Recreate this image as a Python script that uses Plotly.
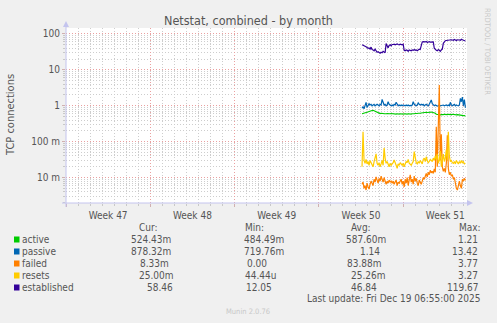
import plotly.graph_objects as go
import pandas as pd

# ---------------- data (2-hour samples) ----------------
series_start = "2025-12-11 14:00"

established = [50, 49, 47, 46,
               44, 42, 40, 41, 38, 43, 37,
               36, 34, 38, 33, 31, 32, 30, 29, 31, 30,
               33, 31, 30,
               54, 45, 41,
               48, 50, 47, 51,
               51, 52, 50, 51, 53, 51, 50, 52, 51, 50, 52,
               35, 34, 36, 35, 33, 36, 35, 34, 36, 35, 37, 35, 36, 34, 36, 38, 37,
               45,
               60, 61, 59, 60, 62, 58, 60, 61, 59, 60, 62, 60,
               40, 36, 35, 34,
               37, 35, 33, 36, 38,
               55, 63, 65, 66,
               67, 66, 68, 67, 69, 68, 67, 70, 68, 66, 69, 70, 68, 67, 71, 69, 68, 66, 64]

passive = [0.85, 0.95, 0.82, 1.1, 1.25, 0.9, 1.0, 1.15, 1.05, 1.1,
           1.0, 1.05, 1.1, 1.0, 1.05, 1.1, 1.05, 1.0, 1.1, 1.05,
           1.5, 1.2, 1.05, 1.1, 1.0, 1.05, 1.3, 1.1, 1.05, 1.0,
           1.05, 1.0, 1.1, 1.05, 1.25, 1.05, 1.0, 1.05, 1.0, 1.05,
           1.0, 1.05, 1.02, 1.0, 1.05, 1.0, 1.05, 1.0, 1.02, 1.0,
           1.05, 1.3, 1.1, 1.05, 1.0, 1.05, 1.2, 1.1, 1.05, 1.1,
           1.05, 1.1, 1.0, 1.05, 1.1, 1.05, 1.0, 1.1, 1.35, 1.45,
           1.15, 1.05, 1.0, 1.05, 1.0, 0.98, 1.0, 1.05, 1.0, 1.02,
           1.0, 1.05, 1.0, 1.02, 1.05, 1.0, 1.05, 1.0, 1.25, 1.05,
           1.0, 1.05, 1.1, 1.0, 1.05, 1.02, 1.0, 1.05, 1.6, 1.3,
           1.75, 1.0, 1.5, 0.88]

active = [0.60, 0.62, 0.63, 0.64, 0.65, 0.66, 0.68, 0.69, 0.70, 0.72,
          0.74, 0.75, 0.73, 0.70, 0.67, 0.65, 0.64, 0.62, 0.61, 0.62,
          0.60, 0.61, 0.60, 0.59, 0.60, 0.61, 0.60, 0.59, 0.60, 0.61,
          0.60, 0.59, 0.60, 0.58, 0.59, 0.60, 0.58, 0.59, 0.60, 0.59,
          0.58, 0.59, 0.60, 0.59, 0.58, 0.59, 0.60, 0.59, 0.58, 0.59,
          0.60, 0.59, 0.60, 0.61, 0.60, 0.61, 0.62, 0.61, 0.62, 0.63,
          0.64, 0.63, 0.64, 0.65, 0.66, 0.65, 0.66, 0.67, 0.66, 0.67,
          0.66, 0.65, 0.64, 0.62, 0.58, 0.57, 0.56, 0.57, 0.56, 0.57,
          0.56, 0.57, 0.58, 0.57, 0.56, 0.57, 0.58, 0.57, 0.58, 0.57,
          0.58, 0.57, 0.56, 0.57, 0.56, 0.57, 0.56, 0.55, 0.54, 0.55,
          0.54, 0.53, 0.53, 0.52]

resets = [0.020, 0.19, 0.030, 0.025, 0.032, 0.024, 0.028, 0.022, 0.030, 0.026,
          0.024, 0.020, 0.028, 0.035, 0.046, 0.025, 0.022, 0.026, 0.020, 0.024,
          0.030, 0.022, 0.067, 0.035, 0.025, 0.028, 0.022, 0.020, 0.025, 0.022,
          0.024, 0.026, 0.031, 0.024, 0.022, 0.018, 0.024, 0.022, 0.026, 0.024,
          0.022, 0.025, 0.020, 0.024, 0.028, 0.026, 0.032, 0.025, 0.024, 0.022,
          0.025, 0.028, 0.053, 0.030, 0.026, 0.024, 0.028, 0.025, 0.030, 0.027,
          0.024, 0.032, 0.035, 0.028, 0.038, 0.030, 0.026, 0.028, 0.032, 0.030,
          0.028, 0.035, 0.030, 0.040, 0.032, 0.045, 0.025, 0.030, 0.055, 0.020,
          0.030, 0.045, 0.028, 0.035, 0.060, 0.030, 0.19, 0.040, 0.028, 0.030,
          0.026, 0.025, 0.028, 0.024, 0.030, 0.026, 0.024, 0.028, 0.025, 0.030,
          0.026, 0.028, 0.024, 0.025]

failed = [0.0065, 0.0075, 0.0050, 0.0060, 0.0045, 0.0070, 0.0055, 0.0048, 0.0065, 0.0080,
          0.0070, 0.0060, 0.0090, 0.0075, 0.0105, 0.0085, 0.0070, 0.0095, 0.0080, 0.0110,
          0.0090, 0.0075, 0.0100, 0.0085, 0.0065, 0.0080, 0.0070, 0.0085, 0.0075, 0.0080,
          0.0070, 0.0080, 0.0065, 0.0075, 0.0085, 0.0060, 0.0075, 0.0070, 0.0080, 0.0090,
          0.0065, 0.0080, 0.0055, 0.0090, 0.0070, 0.0100, 0.0060, 0.0085, 0.0120, 0.0075,
          0.0090, 0.0065, 0.0110, 0.0080, 0.0095, 0.0070, 0.0060, 0.0085, 0.0075, 0.0065,
          0.0080, 0.0100, 0.0090, 0.0115, 0.0130, 0.0105, 0.0140, 0.0120, 0.0160, 0.0135,
          0.0150, 0.0130, 0.0175, 0.0140, 0.26, 0.0200, 0.80, 3.77, 0.0300, 0.16,
          0.0200, 0.0150, 0.0180, 0.0140, 0.0250, 0.15, 0.0180, 0.0120, 0.0140, 0.0110,
          0.0120, 0.0090, 0.0100, 0.0060, 0.0050, 0.0045, 0.0070, 0.0080, 0.0060, 0.0050,
          0.0090, 0.0080, 0.0095, 0.0083]

series_names = ["active", "passive", "failed", "resets", "established"]
series_colors = ["#00cc00", "#0066b3", "#ff8000", "#ffcc00", "#330099"]
series_values = [active, passive, failed, resets, established]

cur_vals = ["524.43m", "878.32m", "8.33m", "25.00m", "58.46"]
min_vals = ["484.49m", "719.76m", "0.00", "44.44u", "12.05"]
avg_vals = ["587.60m", "1.14", "83.88m", "25.26m", "46.84"]
max_vals = ["1.21", "13.42", "3.77", "3.27", "119.67"]

y_tickvals = [0.01, 0.1, 1, 10, 100]
y_ticktext = ["10 m", "100 m", "1", "10", "100"]

title_text = "Netstat, combined - by month"
ylabel_text = "TCP connections"
update_text = "Last update: Fri Dec 19 06:55:00 2025"
munin_text = "Munin 2.0.76"
rrd_text = "RRDTOOL / TOBI OETIKER"

# ---------------- geometry helpers ----------------
W, H = 497, 323
L, R, T, B = 66, 467, 28, 203
FONT = "DejaVu Sans Condensed, DejaVu Sans, sans-serif"
TXT = "#555555"
MAJOR_GRID = "#eaa0a0"
MINOR_GRID = "#cdcdcd"
DASH = "1px,2px"


def px(x):
    return (x - L) / (R - L)


def py(y):
    return (B - y) / (B - T)


times = pd.date_range(series_start, periods=len(active), freq="2h")

fig = go.Figure()
for name, color, vals in zip(series_names, series_colors, series_values):
    fig.add_trace(go.Scatter(x=times, y=vals, mode="lines", name=name,
                             line=dict(color=color, width=1.2),
                             showlegend=False, hoverinfo="skip"))

minor_y = [m * 10 ** k for k in range(-3, 3) for m in range(2, 10)]

fig.update_layout(
    width=W, height=H,
    margin=dict(l=L, r=W - R, t=T, b=H - B),
    paper_bgcolor="#f0f0f0",
    plot_bgcolor="#ffffff",
    font=dict(family=FONT, size=10, color=TXT),
    xaxis=dict(
        type="date",
        range=["2025-11-17 00:00", "2025-12-20 07:12"],
        tick0="2025-11-17", dtick=7 * 86400000,
        ticklabelmode="period", tickformat="Week %V",
        showgrid=True, gridcolor=MAJOR_GRID, griddash=DASH, gridwidth=1,
        ticks="outside", ticklen=3, tickcolor="#d0b0b0",
        minor=dict(dtick=86400000, tick0="2025-11-17", showgrid=True,
                   gridcolor=MINOR_GRID, griddash=DASH, gridwidth=1,
                   ticks="outside", ticklen=2, tickcolor="#c8c8c8"),
        showline=False, zeroline=False,
        tickfont=dict(size=10, color=TXT),
    ),
    yaxis=dict(
        type="log",
        range=[-2.708, 2.167],
        tickmode="array", tickvals=y_tickvals, ticktext=y_ticktext,
        showgrid=True, gridcolor=MAJOR_GRID, griddash=DASH, gridwidth=1,
        ticks="outside", ticklen=3, tickcolor="#d0b0b0",
        minor=dict(tickmode="array", tickvals=minor_y, showgrid=True,
                   gridcolor=MINOR_GRID, griddash=DASH, gridwidth=1,
                   ticks="outside", ticklen=2, tickcolor="#c8c8c8"),
        showline=False, zeroline=False,
        tickfont=dict(size=10, color=TXT),
    ),
)

shapes = []
axis_col = "#c4c4ee"
# axis lines and arrows
shapes.append(dict(type="line", xref="paper", yref="paper",
                   x0=px(66), x1=px(66), y0=py(207), y1=py(24),
                   line=dict(color=axis_col, width=1)))
shapes.append(dict(type="line", xref="paper", yref="paper",
                   x0=px(62), x1=px(470), y0=py(203), y1=py(203),
                   line=dict(color=axis_col, width=1)))
shapes.append(dict(type="path", xref="paper", yref="paper",
                   path=f"M {px(63)} {py(27)} L {px(69)} {py(27)} L {px(66)} {py(21)} Z",
                   fillcolor=axis_col, line=dict(width=0)))
shapes.append(dict(type="path", xref="paper", yref="paper",
                   path=f"M {px(467)} {py(200)} L {px(467)} {py(206)} L {px(473)} {py(203)} Z",
                   fillcolor=axis_col, line=dict(width=0)))

row_y = [239.5, 251.5, 263.5, 275.5, 287.5]
for color, yy in zip(series_colors, row_y):
    shapes.append(dict(type="rect", xref="paper", yref="paper",
                       x0=px(14), x1=px(19.5), y0=py(yy + 3), y1=py(yy - 3),
                       fillcolor=color, line=dict(width=0)))
fig.update_layout(shapes=shapes)

ann = []


def text(x, y, s, anchor="left", size=10, color=TXT, angle=0):
    ann.append(dict(x=px(x), y=py(y), xref="paper", yref="paper", text=s,
                    showarrow=False, xanchor=anchor, yanchor="middle",
                    textangle=angle, font=dict(family=FONT, size=size, color=color)))


text(248, 21, title_text, anchor="center", size=12.5)
text(10, 115, ylabel_text, anchor="center", size=11, angle=-90)
text(488, 51, rrd_text, anchor="center", size=7.5, color="#c8c8c8", angle=90)

header_y = 227.5
text(137, header_y, "Cur:")
text(243, header_y, "Min:")
text(349, header_y, "Avg:")
text(457, header_y, "Max:")

cur_x = [129, 129, 138, 136.5, 145]
min_x = [242, 242, 245, 243, 244]
avg_x = [344, 358, 345, 349, 349]
for i, yy in enumerate(row_y):
    text(19.5, yy, series_names[i])
    text(cur_x[i], yy, cur_vals[i])
    text(min_x[i], yy, min_vals[i])
    text(avg_x[i], yy, avg_vals[i])
    text(480, yy, max_vals[i], anchor="right")

text(482, 298.5, update_text, anchor="right")
text(248, 311, munin_text, anchor="center", size=7.5, color="#c8c8c8")

fig.update_layout(annotations=ann)
fig.write_html("out.html")
